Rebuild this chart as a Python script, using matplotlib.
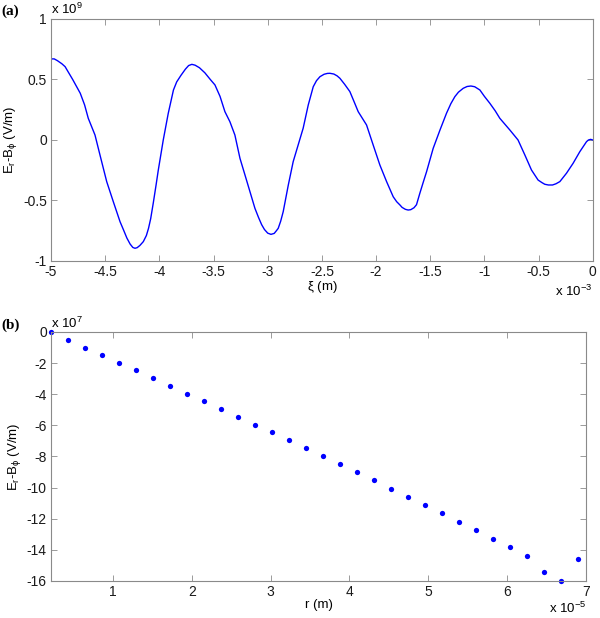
import numpy as np
import matplotlib.pyplot as plt

plt.rcParams['font.family'] = ['Liberation Sans', 'DejaVu Sans']
plt.rcParams['axes.unicode_minus'] = False
plt.rcParams['mathtext.fontset'] = 'custom'
plt.rcParams['mathtext.rm'] = 'Liberation Sans'
plt.rcParams['mathtext.it'] = 'Liberation Sans'

# panel (a): field along xi, xi in 1e-3 m, field in 1e9 V/m
xi = [-5.0, -4.97, -4.94, -4.90, -4.87, -4.80, -4.73, -4.69, -4.656, -4.594,
      -4.548, -4.486, -4.425, -4.363, -4.33, -4.30, -4.27, -4.245, -4.225, -4.205,
      -4.18, -4.148, -4.12, -4.10, -4.08, -4.056, -4.03, -4.01, -3.964, -3.918,
      -3.87, -3.84, -3.80, -3.76, -3.73, -3.70, -3.67, -3.63, -3.58, -3.53,
      -3.487, -3.44, -3.395, -3.349, -3.303, -3.256, -3.21, -3.164, -3.118, -3.085,
      -3.056, -3.03, -3.00, -2.97, -2.94, -2.92, -2.903, -2.88, -2.857, -2.81,
      -2.765, -2.719, -2.673, -2.626, -2.58, -2.55, -2.518, -2.48, -2.45, -2.426,
      -2.39, -2.36, -2.334, -2.29, -2.242, -2.20, -2.165, -2.088, -2.027, -1.965,
      -1.903, -1.842, -1.81, -1.78, -1.76, -1.73, -1.704, -1.68, -1.65, -1.627,
      -1.596, -1.565, -1.534, -1.473, -1.41, -1.35, -1.31, -1.273, -1.24, -1.196,
      -1.16, -1.125, -1.09, -1.042, -1.0, -0.95, -0.90, -0.858, -0.766, -0.69,
      -0.627, -0.566, -0.505, -0.47, -0.443, -0.41, -0.372, -0.34, -0.304, -0.243,
      -0.182, -0.12, -0.058, -0.04, -0.02, 0.0]
field = [0.67, 0.67, 0.655, 0.63, 0.606, 0.50, 0.386, 0.29, 0.179, 0.041,
         -0.124, -0.344, -0.51, -0.675, -0.745, -0.81, -0.86, -0.888, -0.895, -0.89,
         -0.872, -0.84, -0.79, -0.73, -0.65, -0.52, -0.37, -0.25, 0.0, 0.22,
         0.413, 0.48, 0.535, 0.585, 0.615, 0.625, 0.618, 0.597, 0.555, 0.50,
         0.455, 0.36, 0.234, 0.151, 0.041, -0.152, -0.289, -0.427, -0.565, -0.64,
         -0.70, -0.74, -0.77, -0.78, -0.772, -0.75, -0.73, -0.67, -0.592, -0.372,
         -0.179, -0.041, 0.097, 0.289, 0.44, 0.49, 0.523, 0.543, 0.55, 0.551,
         0.545, 0.53, 0.51, 0.46, 0.40, 0.31, 0.234, 0.124, -0.041, -0.207,
         -0.344, -0.469, -0.51, -0.537, -0.557, -0.573, -0.579, -0.576, -0.56, -0.535,
         -0.44, -0.35, -0.262, -0.069, 0.083, 0.221, 0.30, 0.358, 0.395, 0.427,
         0.442, 0.446, 0.44, 0.413, 0.36, 0.303, 0.24, 0.179, 0.083, 0.0,
         -0.124, -0.248, -0.331, -0.352, -0.366, -0.372, -0.372, -0.362, -0.344, -0.275,
         -0.193, -0.097, -0.014, 0.0, 0.005, 0.0]

# panel (b): field along r, r in 1e-5 m, field in 1e7 V/m
r = [0.216, 0.431, 0.647, 0.862, 1.078, 1.294, 1.509, 1.725, 1.940, 2.156,
     2.372, 2.587, 2.803, 3.018, 3.234, 3.450, 3.665, 3.881, 4.096, 4.312,
     4.528, 4.743, 4.959, 5.174, 5.390, 5.606, 5.821, 6.037, 6.252, 6.468,
     6.684, 6.899]
field_r = [0.0, -0.5, -1.0, -1.5, -1.97, -2.46, -2.96, -3.47, -3.97, -4.45,
           -4.95, -5.44, -5.96, -6.45, -6.96, -7.46, -7.97, -8.50, -9.02, -9.53,
           -10.07, -10.58, -11.10, -11.65, -12.19, -12.74, -13.28, -13.82, -14.40, -15.44,
           -16.0, -14.61]

ylab = r'E$_r$-B$_\phi$ (V/m)'
spine_col = '#8a8a8a'


def style_axes(ax):
    for s in ax.spines.values():
        s.set_color(spine_col)
        s.set_linewidth(0.8)
    ax.tick_params(direction='in', top=True, right=True, length=4,
                   width=0.6, color=spine_col, labelsize=10, labelcolor='#1a1a1a', pad=3)


fig = plt.figure(figsize=(6.0, 6.18), dpi=100)

ax1 = fig.add_axes([0.085, 0.5777, 0.903, 0.3916])
ax1.plot(xi, field, color='#0000ff', lw=1.0, solid_joinstyle='round')
ax1.set_xlim(-5, 0)
ax1.set_ylim(-1, 1)
ax1.set_xticks(np.arange(-5, 0.01, 0.5))
ax1.set_xticklabels(['-5', '-4.5', '-4', '-3.5', '-3', '-2.5', '-2', '-1.5', '-1', '-0.5', '0'])
ax1.set_yticks([-1, -0.5, 0, 0.5, 1])
ax1.set_yticklabels(['-1', '-0.5', '0', '0.5', '1'])
style_axes(ax1)
ax1.set_xlabel(r'$\xi$ (m)', fontsize=9.5, labelpad=0)
ax1.set_ylabel(ylab, fontsize=9.5, labelpad=3)
ax1.text(0.0, 1.008, r'x 10$^{9}$', transform=ax1.transAxes, fontsize=9.5, va='bottom', ha='left')
ax1.text(1.0, -0.095, r'x 10$^{-3}$', transform=ax1.transAxes, fontsize=9.5, va='top', ha='right')
fig.text(0.003, 0.982, '(a)', family='Liberation Serif', weight='bold', fontsize=11, va='center')

ax2 = fig.add_axes([0.085, 0.0599, 0.8917, 0.4029])
ax2.plot(r, field_r, 'o', color='#0000ff', ms=3.8, mec='none', clip_on=False)
ax2.set_xlim(r[0], 7)
ax2.set_ylim(-16, 0)
ax2.set_xticks([1, 2, 3, 4, 5, 6, 7])
ax2.set_yticks(np.arange(-16, 0.1, 2))
ax2.set_yticklabels([str(v) for v in range(-16, 1, 2)])
style_axes(ax2)
ax2.set_xlabel('r (m)', fontsize=9.5, labelpad=0)
ax2.set_ylabel(ylab, fontsize=9.5, labelpad=3)
ax2.text(0.0, 1.004, r'x 10$^{7}$', transform=ax2.transAxes, fontsize=9.5, va='bottom', ha='left')
ax2.text(1.0, -0.08, r'x 10$^{-5}$', transform=ax2.transAxes, fontsize=9.5, va='top', ha='right')
fig.text(0.003, 0.473, '(b)', family='Liberation Serif', weight='bold', fontsize=11, va='center')

fig.savefig('out.png', dpi=100)
